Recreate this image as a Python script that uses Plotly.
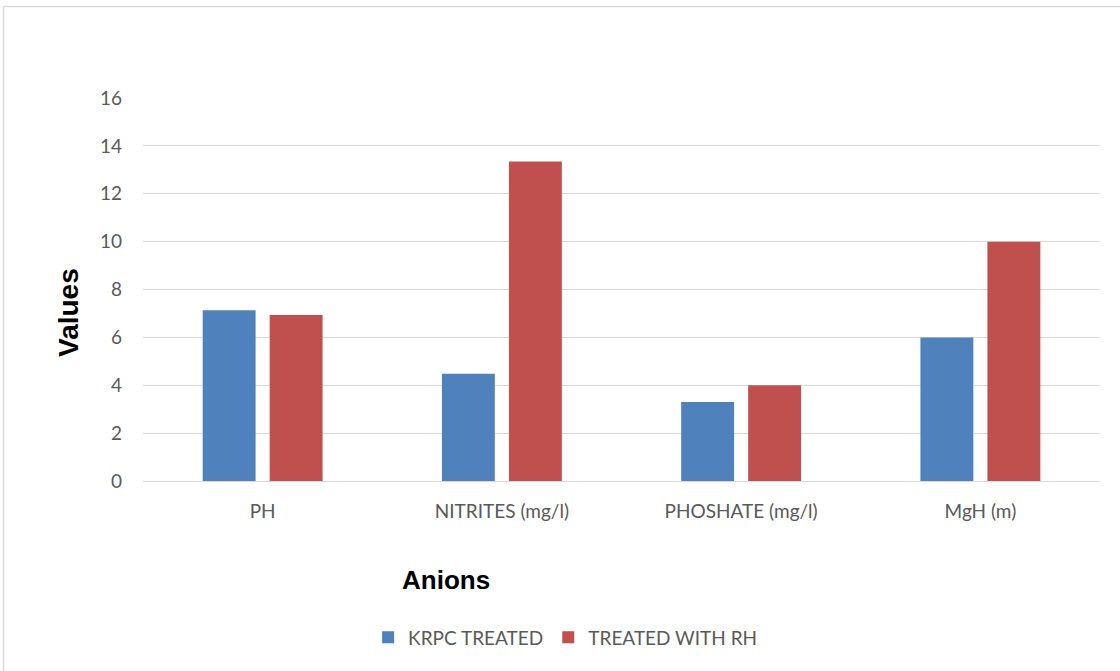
import plotly.graph_objects as go

# Categories and series values
categories = ["PH", "NITRITES (mg/l)", "PHOSHATE (mg/l)", "MgH (m)"]
krpc_treated = [7.13, 4.48, 3.3, 6.0]
treated_with_rh = [6.93, 13.35, 4.0, 10.0]
y_ticks = [0, 2, 4, 6, 8, 10, 12, 14, 16]

W, H = 1120, 671
tick_font = dict(family="Lato, Carlito, 'Open Sans', sans-serif", size=19, color="#595959")

# paper-coordinate helpers for the chart frame (top and left edges only)
px_w, px_h = W - 163, 481 - 98
frame_x0 = -(143 - 3.5) / px_w
frame_y1 = 1 + (98 - 6.5) / px_h

fig = go.Figure()
fig.add_trace(go.Bar(name="KRPC TREATED", x=categories, y=krpc_treated,
                     marker=dict(color="#4f81bd", line=dict(width=0))))
fig.add_trace(go.Bar(name="TREATED WITH RH", x=categories, y=treated_with_rh,
                     marker=dict(color="#c0504d", line=dict(width=0))))

fig.update_layout(
    width=W, height=H,
    margin=dict(l=143, r=20, t=98, b=190),
    paper_bgcolor="white", plot_bgcolor="white",
    barmode="group", bargap=0.44, bargroupgap=0.21,
    showlegend=True,
    legend=dict(orientation="h", xref="container", yref="container",
                x=0.505, xanchor="center", y=0.05, yanchor="middle",
                font=tick_font, itemwidth=30, traceorder="normal"),
    xaxis=dict(showgrid=False, showline=False, ticks="", tickfont=tick_font,
               ticklabelstandoff=17),
    yaxis=dict(range=[0, 16], tickvals=y_ticks, showgrid=True, gridcolor="#d9d9d9",
               gridwidth=1, zeroline=True, zerolinecolor="#d9d9d9", zerolinewidth=1,
               showline=False, ticks="", tickfont=tick_font, ticklabelstandoff=20),
    annotations=[
        dict(text="<b>Anions</b>", xref="paper", yref="paper",
             x=(446 - 143) / px_w, y=-(580 - 481) / px_h,
             xanchor="center", yanchor="middle", showarrow=False,
             font=dict(family="Liberation Sans, Arial, sans-serif", size=26, color="black")),
        dict(text="<b>Values</b>", xref="paper", yref="paper",
             x=-(143 - 68) / px_w, y=(481 - 313) / px_h,
             xanchor="center", yanchor="middle", showarrow=False, textangle=-90,
             font=dict(family="Liberation Sans, Arial, sans-serif", size=28, color="black")),
    ],
    shapes=[
        dict(type="line", xref="paper", yref="paper",
             x0=frame_x0, y0=frame_y1, x1=1 + 60 / px_w, y1=frame_y1,
             line=dict(color="#d9d9d9", width=1.5), layer="below"),
        dict(type="line", xref="paper", yref="paper",
             x0=frame_x0, y0=frame_y1, x1=frame_x0, y1=-(H - 481 + 40) / px_h,
             line=dict(color="#d9d9d9", width=1.5), layer="below"),
    ],
)

fig.write_html("out.html")
